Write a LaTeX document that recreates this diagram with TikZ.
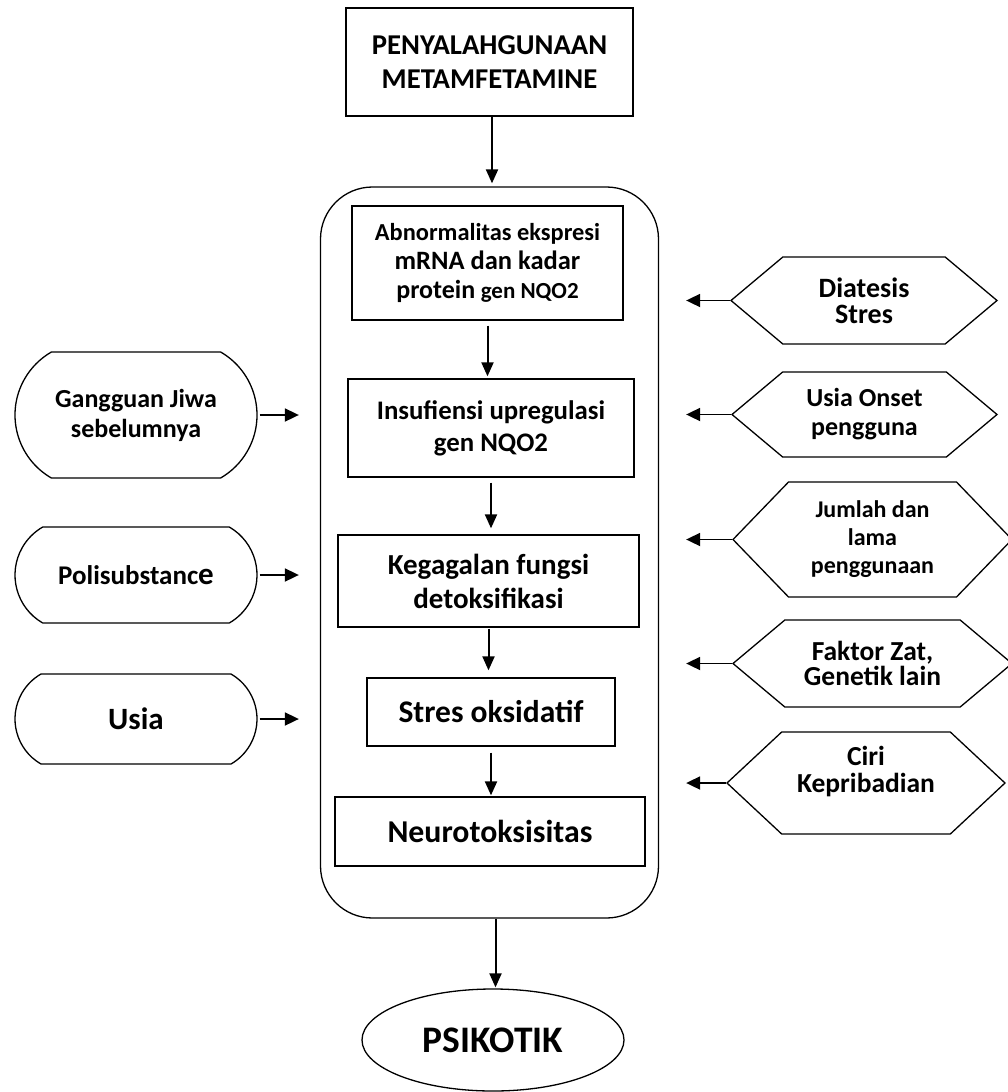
\documentclass[tikz,border=0pt]{standalone}
\usepackage{fontspec}
\setmainfont{Carlito}
\usetikzlibrary{arrows.meta,positioning,shapes.geometric,shapes.misc,shapes.symbols}

\begin{document}
\begin{tikzpicture}[x=1pt,y=-1pt,
		box/.style={rectangle,draw=black,line width=1.3pt,align=center,inner sep=2pt},
		stadium/.style={rounded rectangle,rounded rectangle arc length=120,draw=black,line width=1.3pt,
			minimum width=246pt,align=center,inner sep=2pt,font=\bfseries\fontsize{26}{30}\selectfont},
		hexa/.style={signal,signal to=west and east,signal pointer angle=80,draw=black,line width=1.3pt,
			align=center,inner sep=0pt},
		arr/.style={-{Triangle[length=14pt,width=12pt]},line width=2pt},
		side/.style={-{Triangle[length=14pt,width=13pt]},line width=1.8pt}]

	\useasboundingbox (0,0) rectangle (1008,1092);

	% frame round the chain
	\node[draw=black,line width=1.3pt,rounded corners=52pt,minimum width=338pt,minimum height=731pt] (frame) at (489.5,552.5) {};

	\node[box,minimum width=287pt,minimum height=108pt,font=\bfseries\fontsize{28.7}{34}\selectfont] (abuse) at (489.5,62)
		{PENYALAHGUNAAN\\METAMFETAMINE};

	\node[box,minimum width=271pt,minimum height=114pt,font=\bfseries\fontsize{24.4}{29}\selectfont] (abnorm) at (487.5,263)
		{Abnormalitas ekspresi\\
		 {\fontsize{26.5}{29}\selectfont mRNA dan kadar}\\
		 {\fontsize{26}{29}\selectfont protein} {\fontsize{23}{29}\selectfont gen NQO2}};
	\node[box,minimum width=286pt,minimum height=98pt,font=\bfseries\fontsize{26.8}{32}\selectfont] (insuf) at (491,428)
		{Insufiensi upregulasi\\gen NQO2};
	\node[box,minimum width=301pt,minimum height=92pt,font=\bfseries\fontsize{29}{34}\selectfont] (gagal) at (488.5,581)
		{Kegagalan fungsi\\detoksifikasi};
	\node[box,minimum width=248pt,minimum height=68pt,font=\bfseries\fontsize{31.5}{36}\selectfont] (oksid) at (491,712)
		{Stres oksidatif};
	\node[box,minimum width=310pt,minimum height=69pt,font=\bfseries\fontsize{31.8}{36}\selectfont] (neuro) at (490,831.5)
		{Neurotoksisitas};

	\node[ellipse,draw=black,line width=1.3pt,minimum width=262pt,minimum height=102pt,
		font=\bfseries\fontsize{37.5}{40}\selectfont] (psikotik) at (493,1040) {PSIKOTIK};

	% left factors
	\node[stadium,minimum height=126pt] (jiwa) at (136,415) {Gangguan Jiwa\\sebelumnya};
	\node[stadium,minimum height=96pt,font=\bfseries\fontsize{27}{30}\selectfont] (poli) at (136,575)
		{Polisubstanc{\fontsize{31}{30}\selectfont e}};
	\node[stadium,minimum height=90pt,font=\bfseries\fontsize{31}{36}\selectfont] (usia) at (136,719) {Usia};

	% right factors
	\node[hexa,minimum width=266pt,minimum height=87pt,font=\bfseries\fontsize{28}{26}\selectfont] (diat) at (864,300.5)
		{Diatesis\\Stres};
	\node[hexa,minimum width=265pt,minimum height=85pt,font=\bfseries\fontsize{26}{29}\selectfont] (onset) at (864.5,414.5)
		{Usia Onset\\pengguna};
	\node[hexa,signal pointer angle=92,minimum width=279pt,minimum height=115pt,font=\bfseries\fontsize{24}{28}\selectfont] (jumlah) at (872.5,539.5)
		{Jumlah dan\\lama\\penggunaan};
	\node[hexa,minimum width=279pt,minimum height=87pt,font=\bfseries\fontsize{27.5}{25}\selectfont] (faktor) at (872.5,663.5)
		{Faktor Zat,\\Genetik lain};
	\node[hexa,signal pointer angle=86,minimum width=278pt,minimum height=102pt,font=\bfseries\fontsize{27.5}{27}\selectfont] (ciri) at (866,783)
		{Ciri\\Kepribadian\\[-8pt]\strut};

	% main chain
	\draw[arr,shorten >=3pt] ([xshift=2.5pt]abuse.south) -- ([xshift=2.5pt]abuse.south |- frame.north);
	\draw[arr,shorten <=5pt,shorten >=2pt] (abnorm.south) -- (abnorm.south |- insuf.north);
	\draw[arr,shorten <=5pt,shorten >=6pt] (insuf.south) -- (insuf.south |- gagal.north);
	\draw[arr,shorten <=1pt,shorten >=7pt] (gagal.south) -- (gagal.south |- oksid.north);
	\draw[arr,shorten <=6pt,shorten >=1pt] (oksid.south) -- (oksid.south |- neuro.north);
	\draw[arr,shorten >=1pt] ([xshift=6pt]frame.south) -- ([xshift=6pt]frame.south |- psikotik.north);

	% factors into the frame
	\foreach \f in {jiwa,poli,usia}
		\draw[side,shorten <=2pt,shorten >=21pt] (\f.east) -- (\f.east -| frame.west);
	\foreach \f in {diat,onset,jumlah,faktor,ciri}
		\draw[side,shorten >=27pt] (\f.west) -- (\f.west -| frame.east);
\end{tikzpicture}
\end{document}
